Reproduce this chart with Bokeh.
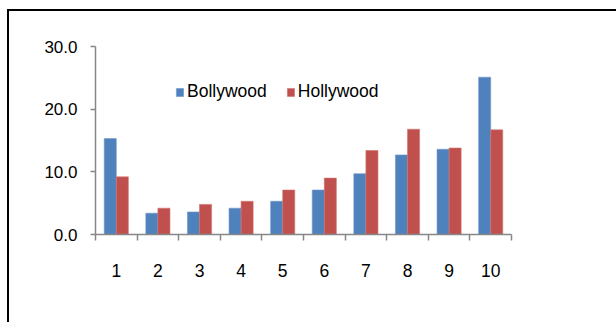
from bokeh.plotting import figure
from bokeh.models import (ColumnDataSource, FixedTicker, Legend, LegendItem,
                          NumeralTickFormatter, Range1d)
from bokeh.embed import file_html
from bokeh.resources import INLINE

# Chart data
categories = [1, 2, 3, 4, 5, 6, 7, 8, 9, 10]
bollywood = [15.3, 3.4, 3.6, 4.2, 5.3, 7.1, 9.7, 12.7, 13.6, 25.1]
hollywood = [9.2, 4.2, 4.8, 5.3, 7.1, 9.0, 13.4, 16.8, 13.8, 16.7]
y_ticks = [0, 10, 20, 30]

FONT = "Liberation Sans"
BLUE = "#4F81BD"
RED = "#C0504D"
AXIS = "#878787"

bar_w = 0.29
src = ColumnDataSource(dict(
    xb=[c - bar_w / 2 for c in categories],
    xh=[c + bar_w / 2 for c in categories],
    bollywood=bollywood,
    hollywood=hollywood,
))

p = figure(width=616, height=322, output_backend="svg", toolbar_location=None,
           x_range=Range1d(0.5, 10.5), y_range=Range1d(0, 30),
           min_border_left=95, min_border_right=105,
           min_border_top=46, min_border_bottom=88)
p.background_fill_color = "white"
p.border_fill_color = "white"
p.outline_line_color = None
p.xgrid.visible = False
p.ygrid.visible = False

rb = p.vbar(x="xb", top="bollywood", width=bar_w, source=src,
            fill_color=BLUE, line_color="#6F97CB", line_width=0.6)
rh = p.vbar(x="xh", top="hollywood", width=bar_w, source=src,
            fill_color=RED, line_color="#D07370", line_width=0.6)

# x axis: ticks on category boundaries, labels at category centres
xa = p.xaxis[0]
xa.ticker = FixedTicker(ticks=categories,
                        minor_ticks=[c - 0.5 for c in categories] + [10.5])
xa.major_tick_out = 0
xa.major_tick_in = 0
xa.minor_tick_out = 6
xa.minor_tick_in = 0
xa.minor_tick_line_color = AXIS
xa.minor_tick_line_width = 1.5
xa.axis_line_color = AXIS
xa.axis_line_width = 1.5
xa.major_label_text_font = FONT
xa.major_label_text_font_size = "17.5px"
xa.major_label_text_color = "black"
xa.major_label_standoff = 23

# y axis
ya = p.yaxis[0]
ya.ticker = FixedTicker(ticks=y_ticks)
ya.formatter = NumeralTickFormatter(format="0.0")
ya.major_tick_out = 5
ya.major_tick_in = 0
ya.minor_tick_out = 0
ya.minor_tick_in = 0
ya.major_tick_line_color = AXIS
ya.major_tick_line_width = 1.5
ya.axis_line_color = AXIS
ya.axis_line_width = 1.5
ya.major_label_text_font = FONT
ya.major_label_text_font_size = "17px"
ya.major_label_text_color = "black"
ya.major_label_standoff = 13

legend = Legend(items=[LegendItem(label="Bollywood", renderers=[rb]),
                       LegendItem(label="Hollywood", renderers=[rh])],
                orientation="horizontal", location=(80, 132),
                glyph_width=9, glyph_height=10, label_standoff=3, spacing=19,
                padding=0, margin=0, border_line_color=None,
                background_fill_alpha=0,
                label_text_font=FONT, label_text_font_size="17.5px",
                label_text_color="black")
p.add_layout(legend, "center")

html = file_html(p, INLINE)
# page styling: no scrolling, and the chart's black border on its top and left sides
border_css = (
    "<style>html, body { margin: 0; overflow: hidden; }\n"
    ".chart-border { position: absolute; left: 7px; top: 9px; width: 700px;"
    " height: 400px; border-left: 2px solid black; border-top: 2px solid black;"
    " pointer-events: none; }</style>\n"
)
html = html.replace("</head>", border_css + "</head>", 1)
html = html.replace("</body>", '<div class="chart-border"></div>\n</body>', 1)
open("out.html", "w").write(html)
